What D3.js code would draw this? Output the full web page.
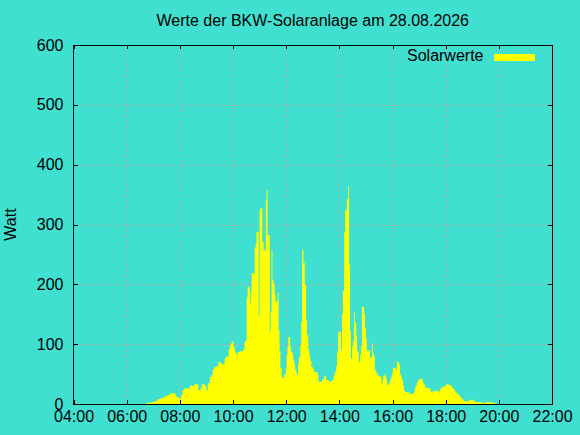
<!DOCTYPE html>
<html>
<head>
<meta charset="utf-8">
<script src="https://cdn.jsdelivr.net/npm/d3@7"></script>
<style>
html,body{margin:0;padding:0;background:#40E0D0;}
svg{display:block;}
text{font-family:"Liberation Sans",Arial,sans-serif;font-size:16px;fill:#000;}
</style>
</head>
<body>
<svg id="chart" width="580" height="435"></svg>
<script>
const title = "Werte der BKW-Solaranlage am 28.08.2026";
const yLabel = "Watt";
const seriesName = "Solarwerte";
const xTickLabels = ["04:00","06:00","08:00","10:00","12:00","14:00","16:00","18:00","20:00","22:00"];
const yTicks = [0,100,200,300,400,500,600];

const times = [
"06:43","06:47","06:56","07:03","07:09","07:15","07:20","07:26","07:32","07:38",
"07:50","07:54","08:00","08:03","08:06","08:09","08:23","08:27","08:33","08:42",
"08:47","08:50","08:56","09:00","09:03","09:08","09:11","09:14","09:17","09:21",
"09:27","09:32","09:35","09:41","09:44","09:50","09:53","09:56","09:58","10:01",
"10:03","10:05","10:08","10:11","10:15","10:23","10:26","10:29","10:31","10:33",
"10:38","10:40","10:42","10:47","10:49","10:51","10:53","10:58","11:00","11:02",
"11:06","11:09","11:14","11:16","11:18","11:23","11:25","11:27","11:29","11:32",
"11:34","11:36","11:38","11:41","11:43","11:45","11:47","11:50","11:52","11:54",
"11:56","11:59","12:01","12:03","12:05","12:09","12:11","12:14","12:16","12:18",
"12:20","12:23","12:25","12:27","12:29","12:32","12:34","12:36","12:39","12:42",
"12:45","12:47","12:50","12:52","12:54","12:57","13:00","13:02","13:05","13:11",
"13:13","13:21","13:26","13:30","13:35","13:38","13:41","13:44","13:47","13:50",
"13:53","13:55","13:57","14:00","14:04","14:06","14:08","14:11","14:13","14:17",
"14:20","14:22","14:24","14:26","14:29","14:31","14:33","14:35","14:38","14:40",
"14:42","14:44","14:47","14:49","14:51","14:56","14:58","15:00","15:02","15:07",
"15:09","15:11","15:14","15:16","15:18","15:20","15:23","15:26","15:30","15:35",
"15:37","15:39","15:42","15:44","15:46","15:48","15:50","15:53","15:55","15:57",
"15:59","16:01","16:08","16:10","16:15","16:17","16:19","16:21","16:24","16:26",
"16:28","16:30","16:37","16:48","16:50","16:52","16:55","16:57","16:59","17:01",
"17:08","17:10","17:13","17:15","17:24","17:26","17:28","17:30","17:35","17:37",
"17:39","17:41","17:44","17:46","17:48","17:51","17:55","17:57","17:59","18:02",
"18:06","18:11","18:13","18:15","18:17","18:20","18:22","18:24","18:26","18:31",
"18:33","18:35","18:38","18:40","18:45","18:49","18:54","19:03","19:07","19:21",
"19:25","19:28","19:32","19:43","19:50","19:53"
];
const watts = [
1,2,3,5,8,9,11,13,15,18,
13,11,8,15,22,26,31,30,33,23,
27,33,30,23,35,45,48,57,61,63,
70,68,66,76,79,91,99,102,105,97,
91,86,82,87,88,91,104,107,179,196,
169,187,219,217,260,268,288,146,324,327,
271,257,342,358,282,121,154,257,207,200,
183,169,173,187,123,88,60,46,44,43,
50,59,82,96,112,96,87,84,74,68,
58,52,49,69,79,98,137,258,236,199,
141,115,90,82,72,62,60,54,53,48,
37,41,47,40,39,37,39,40,48,54,
63,87,119,121,90,150,189,287,323,343,
364,233,122,76,97,106,154,136,115,90,
86,70,82,96,162,150,126,109,89,90,
79,77,101,84,80,57,52,48,46,32,
40,47,50,46,40,31,33,37,41,46,
52,60,57,70,65,50,46,40,30,22,
19,20,17,20,26,31,36,39,41,42,
37,33,28,27,25,21,19,21,22,23,
21,22,19,22,26,29,27,30,31,33,
32,31,29,27,25,22,20,19,16,13,
12,9,7,5,4,5,7,4,3,2,
1,3,3,2,1,0
];

const toMin = s => { const p = s.split(":"); return +p[0]*60 + +p[1]; };
const data = times.map((t,i) => ({t: toMin(t), v: watts[i]}));

const L = 73.5, R = 552, T = 45, B = 404;
const svg = d3.select("#chart");
svg.append("rect").attr("width",580).attr("height",435).attr("fill","#40E0D0");

const x = d3.scaleLinear().domain([toMin(xTickLabels[0]), toMin(xTickLabels[xTickLabels.length-1])]).range([L, R]);
const y = d3.scaleLinear().domain([0, 600]).range([B, T]);
const xTickVals = xTickLabels.map(toMin);

// grid
const grid = svg.append("g").attr("stroke","#c8a0a0").attr("stroke-width",1).attr("stroke-dasharray","2,3").attr("shape-rendering","crispEdges");
grid.selectAll("line.gx").data(xTickVals.slice(1,-1)).join("line")
  .attr("x1",d=>Math.round(x(d))+0.5).attr("x2",d=>Math.round(x(d))+0.5).attr("y1",T).attr("y2",B);
grid.selectAll("line.gy").data(yTicks.slice(1,-1)).join("line")
  .attr("x1",L).attr("x2",R).attr("y1",d=>Math.round(y(d))+0.5).attr("y2",d=>Math.round(y(d))+0.5);

// area
const area = d3.area().curve(d3.curveStepAfter).x(d=>x(d.t)).y0(y(0)).y1(d=>y(d.v));
svg.append("path").datum(data).attr("d",area).attr("fill","#FFFF00").attr("stroke","none");

// axes
const fmt = (d,i) => xTickLabels[i];
const gB = svg.append("g").attr("transform",`translate(0,${B})`)
  .call(d3.axisBottom(x).tickValues(xTickVals).tickFormat(fmt).tickSize(-4).tickPadding(7));
const gT = svg.append("g").attr("transform",`translate(0,${T})`)
  .call(d3.axisTop(x).tickValues(xTickVals).tickFormat("").tickSize(-4));
const gL = svg.append("g").attr("transform",`translate(${L},0)`)
  .call(d3.axisLeft(y).tickValues(yTicks).tickFormat(d3.format("d")).tickSize(-4).tickPadding(10));
const gR = svg.append("g").attr("transform",`translate(${R},0)`)
  .call(d3.axisRight(y).tickValues(yTicks).tickFormat("").tickSize(-4));
[gB,gT,gL,gR].forEach(g=>{
  g.select(".domain").remove();
  g.selectAll("line").attr("stroke","#000").attr("shape-rendering","crispEdges");
  g.selectAll("text").attr("font-family",null).attr("font-size",null).style("font-size","16px").attr("fill","#000");
});

// border
svg.append("rect").attr("x",L).attr("y",T).attr("width",R-L).attr("height",B-T)
  .attr("fill","none").attr("stroke","#000").attr("stroke-width",1).attr("shape-rendering","crispEdges");

// title
svg.append("text").attr("x",(L+R)/2).attr("y",26).attr("text-anchor","middle").text(title);
// y label
svg.append("text").attr("transform",`translate(16,${(T+B)/2}) rotate(-90)`).attr("text-anchor","middle").text(yLabel);
// legend
svg.append("text").attr("x",483.5).attr("y",61).attr("text-anchor","end").text(seriesName);
svg.append("rect").attr("x",494).attr("y",54).attr("width",41).attr("height",7).attr("fill","#FFFF00");
</script>
</body>
</html>
